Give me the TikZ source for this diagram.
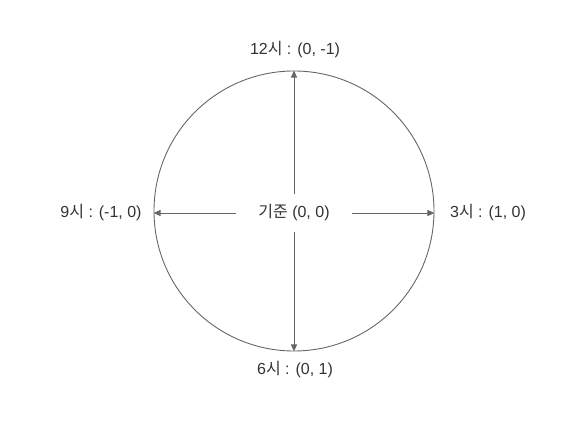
\documentclass[tikz,border=0pt]{standalone}
\usepackage{fontspec}
\setmainfont{Liberation Sans}
\newfontfamily\kr{Noto Sans CJK KR}
\usetikzlibrary{arrows.meta}
\definecolor{linegray}{HTML}{666666}
\definecolor{txt}{HTML}{333333}
\begin{document}
\begin{tikzpicture}[x=1pt,y=1pt,
  lbl/.style={font=\fontsize{16}{19}\selectfont, text=txt, inner sep=0pt},
  arr/.style={draw=linegray, line width=0.9pt, -{Triangle[length=7pt,width=6pt]}},
  ring/.style={circle, draw=linegray, line width=0.9pt, minimum size=280pt, inner sep=0pt}]
\useasboundingbox (0,0) rectangle (572,420);
\node[ring] (c) at (294,209) {};
\draw[arr, {Triangle[length=7pt,width=6pt]}-{Triangle[length=7pt,width=6pt]}] (c.south) -- (c.north);
\node[lbl, fill=white, minimum width=115pt, minimum height=38pt] (o) at (294,207) {{\kr 기준} (0, 0)};
\draw[arr] (o.west) -- (c.west |- o.west);
\draw[arr] (o.east) -- (c.east |- o.east);
\node[lbl] (t12) at (295,370) {12{\kr 시} : (0, -1)};
\node[lbl] (t6) at (295,50) {6{\kr 시} : (0, 1)};
\node[lbl] (t9) at (101,207) {9{\kr 시} : (-1, 0)};
\node[lbl] (t3) at (488,207) {3{\kr 시} : (1, 0)};
\end{tikzpicture}
\end{document}
